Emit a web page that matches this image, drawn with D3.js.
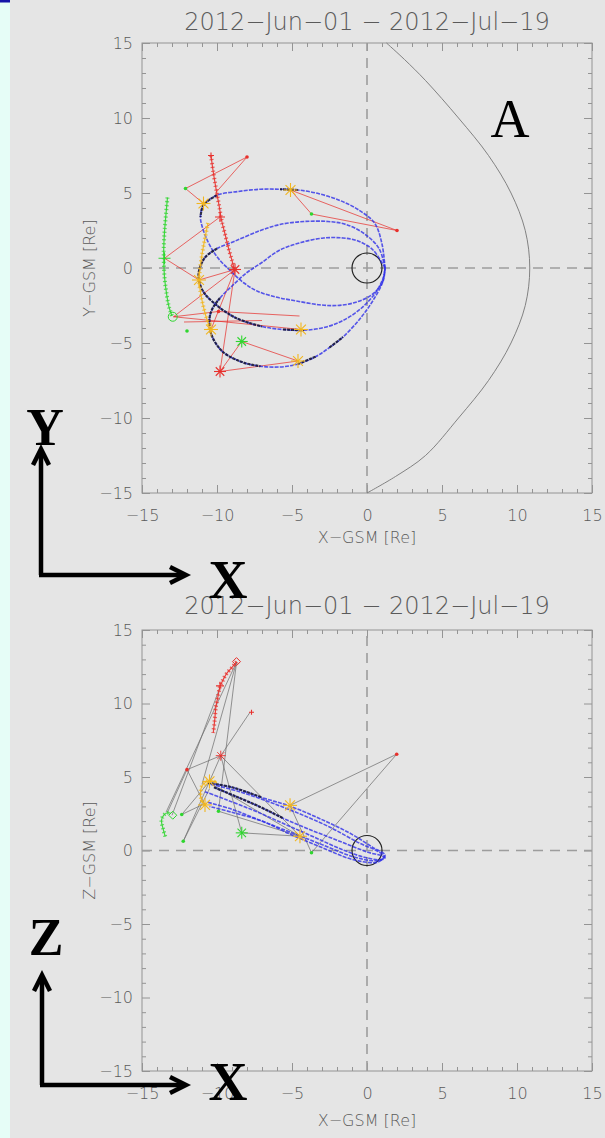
<!DOCTYPE html>
<html>
<head>
<meta charset="utf-8">
<script src="https://cdn.jsdelivr.net/npm/d3@7"></script>
<style>
  html, body { margin: 0; padding: 0; background: #e5e5e5; }
  svg { display: block; }
</style>
</head>
<body>
<svg id="fig" width="605" height="1138"></svg>
<script>
// ---------- data ----------
const dateRange = "2012\u2212Jun\u221201 \u2212 2012\u2212Jul\u221219";
const majorTicks = [-15, -10, -5, 0, 5, 10, 15];
const minorTicks = [-14,-13,-12,-11,-9,-8,-7,-6,-4,-3,-2,-1,1,2,3,4,6,7,8,9,11,12,13,14];
const xLabel = "X\u2212GSM [Re]";
const yLabel = "Y\u2212GSM [Re]";
const zLabel = "Z\u2212GSM [Re]";

// model magnetopause in the X-Y plane
const mpX = [1.3, 2.5, 3.9, 6.1, 8.1, 9.6, 10.55, 10.85, 10.55, 9.6, 8.1, 6.1, 3.9, 1.9, 0.0];
const mpY = [15, 13.9, 12.5, 10, 7.5, 5, 2.5, 0, -2.5, -5, -7.5, -10, -12.5, -13.9, -15];

// spacecraft orbits in X-Y: [x, y, inRegion(1 = dark segment to next point)]
const orbitXY1 = [
  [1.2,0.0,0],[1.0,1.6,0],[0.5,3.0,0],[-0.6,3.9,0],[-1.8,4.5,0],[-3.2,4.95,0],[-4.6,5.2,1],
  [-5.8,5.25,0],[-7.1,5.25,0],[-8.6,5.1,0],[-10.0,4.85,1],[-10.9,4.2,1],[-11.1,3.4,0],
  [-11.0,2.8,0],[-10.6,1.75,0],[-10.0,0.75,0],[-9.1,-0.2,0],[-8.2,-1.0,0],[-7.3,-1.55,0],
  [-6.0,-1.95,0],[-4.7,-2.2,0],[-3.2,-2.45,0],[-2.0,-2.5,0],[-0.8,-2.3,0],[0.3,-1.8,0],
  [1.0,-1.0,0],[1.2,0.0,0]
];
const orbitXY2 = [
  [1.2,0.0,0],[0.8,1.3,0],[-0.2,2.3,0],[-1.4,2.9,0],[-2.6,3.1,0],[-4.2,3.1,0],[-5.8,2.9,0],
  [-7.1,2.5,0],[-8.9,1.75,0],[-10.0,1.3,1],[-10.8,0.7,1],[-11.2,-0.2,1],[-11.2,-0.8,1],
  [-10.9,-1.6,1],[-10.0,-2.5,1],[-8.7,-3.35,1],[-7.0,-3.9,0],[-5.6,-4.1,1],[-4.2,-4.15,0],
  [-2.8,-3.95,0],[-1.6,-3.5,0],[-0.4,-2.7,0],[0.6,-1.6,0],[1.1,-0.6,0],[1.2,0.0,0]
];
const orbitXY3 = [
  [1.2,0.0,0],[0.4,1.2,0],[-0.6,1.8,0],[-1.6,2.0,0],[-2.9,2.0,0],[-4.4,1.7,0],[-5.8,1.2,0],
  [-7.1,0.3,0],[-8.0,-0.3,0],[-9.0,-1.2,0],[-9.8,-2.0,1],[-10.3,-2.7,1],[-10.5,-3.4,1],
  [-10.35,-4.5,1],[-9.6,-5.6,1],[-8.25,-6.3,1],[-7.1,-6.55,0],[-5.8,-6.6,0],[-4.6,-6.4,1],
  [-3.4,-5.9,0],[-2.5,-5.3,1],[-1.6,-4.6,0],[-0.4,-3.3,0],[0.5,-2.0,0],[1.1,-0.8,0],[1.2,0.0,0]
];

// dense-cadence tracks in X-Y
const redTrackXY = [[-10.4,7.5],[-10.25,6.4],[-10.05,5.2],[-9.85,4.1],[-9.7,3.2],[-9.45,2.2],[-9.2,1.2],[-9.0,0.5],[-8.85,-0.1]];
const yellowTrackXY = [[-10.6,3.0],[-10.8,2.0],[-11.0,0.9],[-11.15,-0.2],[-11.2,-0.8],[-11.05,-1.9],[-10.8,-3.0],[-10.55,-3.8],[-10.4,-4.3]];
const greenTrackXY = [[-13.3,4.7],[-13.4,3.6],[-13.5,2.4],[-13.55,1.3],[-13.55,0.65],[-13.5,-0.6],[-13.35,-1.8],[-13.2,-2.6],[-13.0,-3.2]];

// connecting lines between positions in X-Y: [x1, y1, x2, y2]
const linksXY = [
  [-8.0,7.4,-12.1,5.3],[-12.1,5.3,-10.9,4.3],[-8.0,7.4,-10.1,5.0],[-9.8,3.4,-13.5,0.65],
  [-13.5,0.65,-11.2,-0.8],[-12.9,-3.25,-8.8,-0.1],[-8.8,-0.1,-9.8,-6.9],[-12.9,-3.25,-4.4,-4.1],
  [-12.9,-3.25,-9.9,-2.9],[-9.9,-2.9,-4.5,-3.2],[-11.2,-0.8,-8.8,-0.1],[-8.8,-0.1,-10.4,-4.1],
  [-9.8,-6.9,-8.35,-4.9],[-8.35,-4.9,-4.6,-6.2],[-9.8,-6.9,-4.6,-6.2],
  [-5.1,5.2,-3.7,3.6],[-3.7,3.6,2.0,2.5],[-5.1,5.2,2.0,2.5],[-12.2,-3.6,-7.0,-3.5]
];

// markers in X-Y
const redAsterXY = [[-8.8,-0.1],[-9.8,-6.9]];
const redPlusXY = [[-9.8,3.4]];
const redSmallPlusXY = [[-10.4,7.5]];
const redDotXY = [[-8.0,7.4],[2.0,2.5],[-9.9,-2.9]];
const yellowAsterXY = [[-10.9,4.3],[-5.1,5.2],[-11.2,-0.8],[-10.4,-4.1],[-4.4,-4.1],[-4.6,-6.2]];
const greenAsterXY = [[-8.35,-4.9]];
const greenPlusXY = [[-13.5,0.65]];
const greenCircleXY = [[-12.95,-3.25]];
const greenDotXY = [[-12.1,5.3],[-3.7,3.6],[-12.0,-4.2]];

// spacecraft orbits in X-Z
const orbitXZ1 = [
  [-10.6,4.6,1],[-9.0,4.3,1],[-7.0,3.6,0],[-5.1,3.0,0],[-3.0,2.1,0],[-1.0,1.1,0],[0.4,0.2,0],
  [1.2,-0.3,0],[1.0,-0.6,0],[0.0,-0.5,0],[-1.5,0.0,0],[-3.5,0.9,0],[-5.5,1.8,0],[-7.5,2.7,0],
  [-9.5,3.5,0],[-10.8,4.0,0]
];
const orbitXZ2 = [
  [-10.4,4.5,0],[-8.5,4.0,0],[-6.5,3.3,0],[-4.5,2.5,0],[-2.5,1.6,0],[-0.5,0.5,0],[0.8,-0.1,0],
  [1.2,-0.5,0],[0.5,-0.7,0],[-1.0,-0.4,0],[-3.0,0.4,0],[-5.0,1.2,0],[-7.0,2.0,0],[-9.0,2.8,0],
  [-10.7,3.3,0]
];
const orbitXZ3 = [
  [-10.2,4.3,1],[-8.8,3.7,1],[-7.2,3.0,1],[-5.6,2.2,0],[-4.0,1.5,0],[-2.0,0.7,0],[0.0,-0.1,0],
  [1.1,-0.45,0],[0.7,-0.8,0],[-1.0,-0.6,0],[-3.0,0.2,0],[-5.0,1.05,0],[-7.0,2.0,0],[-9.0,2.6,0],
  [-10.5,3.0,0]
];

// dense-cadence tracks in X-Z
const redTrackXZ = [[-8.7,12.85],[-9.0,12.45],[-9.35,12.05],[-9.6,11.6],[-9.8,11.15],[-9.95,10.4],[-10.07,9.8],[-10.15,8.9],[-10.25,8.0]];
const yellowTrackXZ = [[-10.8,3.1],[-11.05,3.5],[-11.1,3.9],[-11.0,4.4],[-10.75,4.65],[-10.47,4.75],[-10.0,4.6]];
const greenTrackXZ = [[-13.45,0.95],[-13.6,1.5],[-13.7,2.05],[-13.55,2.4],[-13.35,2.55],[-13.1,2.55]];

// connecting lines between positions in X-Z
const linksXZ = [
  [-8.7,12.8,-13.4,2.6],[-8.7,12.8,-11.0,4.5],[-8.7,12.8,-9.9,2.7],[-9.8,11.1,-13.0,2.4],
  [-7.8,9.4,-9.75,6.45],[-9.75,6.45,-8.35,1.2],[-9.75,6.45,-4.47,0.97],[-9.75,6.45,-12.25,0.63],
  [-12.0,5.5,-10.8,3.1],[-12.0,5.5,-13.3,2.6],[-5.13,3.07,1.98,6.55],[1.98,6.55,-3.7,-0.15],
  [-5.13,3.07,-3.7,-0.15],[-8.35,1.2,-4.47,0.97],[-9.9,2.67,-4.47,0.97],[-12.35,2.45,-10.5,4.7],
  [-12.35,2.45,-10.8,3.2],[-12.25,0.63,-10.5,4.2],[-10.5,4.6,-4.47,0.97],[-12.0,5.5,-9.75,6.45]
];

// markers in X-Z
const redAsterXZ = [[-9.75,6.45]];
const redPlusXZ = [[-9.8,11.2]];
const redSmallPlusXZ = [[-7.7,9.4]];
const redDiamondXZ = [[-8.7,12.85]];
const redDotXZ = [[1.98,6.55],[-12.0,5.5]];
const yellowAsterXZ = [[-10.5,4.7],[-10.8,3.1],[-5.13,3.07],[-4.47,0.97]];
const greenAsterXZ = [[-8.35,1.2]];
const greenDiamondXZ = [[-12.95,2.4]];
const greenDotXZ = [[-12.35,2.45],[-12.25,0.63],[-3.7,-0.15],[-9.9,2.67]];

// ---------- drawing ----------
const svg = d3.select("#fig");
const FONT = "'DejaVu Sans', 'Liberation Sans', sans-serif";
const SERIF = "'Liberation Serif', 'Times New Roman', serif";
const C = { red: "#e8302c", yellow: "#f2b61e", green: "#2fd62f", blue: "#3030e8", dark: "#15152e",
            frame: "#949494", text: "#5a5a5a", dash: "#9d9d9d", link: "#6e6e6e" };

// page background and the narrow strip on the left
svg.append("rect").attr("width", 605).attr("height", 1138).attr("fill", "#e5e5e5");
svg.append("rect").attr("width", 10).attr("height", 1138).attr("fill", "#e6fdf7");
svg.append("rect").attr("width", 10).attr("height", 2.5).attr("fill", "#1515a8");

function panel(top, bottom, titleY, vLabel, xLabelGap) {
  const x = d3.scaleLinear().domain([-15, 15]).range([142, 592]);
  const y = d3.scaleLinear().domain([-15, 15]).range([bottom, top]);
  const g = svg.append("g");

  g.append("text").attr("x", 367).attr("y", titleY).attr("text-anchor", "middle")
    .attr("font-family", FONT).attr("font-weight", 300).attr("font-size", 24)
    .attr("fill", C.text).text(dateRange);

  // axes with inward ticks on all four sides
  const axes = [
    [d3.axisBottom(x), `translate(0,${bottom})`, true, 17],
    [d3.axisTop(x), `translate(0,${top})`, false, 0],
    [d3.axisLeft(y), `translate(142,0)`, true, 9],
    [d3.axisRight(y), `translate(592,0)`, false, 0]
  ];
  axes.forEach(([ax, tr, labels, pad]) => {
    const minor = g.append("g").attr("transform", tr)
      .call(ax.tickValues(minorTicks).tickSize(-4).tickFormat(""));
    minor.select(".domain").remove();
    minor.selectAll("line").attr("stroke", C.frame);
    const major = g.append("g").attr("transform", tr)
      .call(ax.tickValues(majorTicks).tickSize(-8).tickPadding(pad)
        .tickFormat(labels ? d3.format("d") : ""));
    major.select(".domain").remove();
    major.selectAll("line").attr("stroke", C.frame);
    major.selectAll("text").attr("font-family", FONT).attr("font-weight", 300)
      .attr("font-size", 16).attr("fill", C.text);
  });
  g.append("rect").attr("x", 142).attr("y", top).attr("width", 450).attr("height", bottom - top)
    .attr("fill", "none").attr("stroke", C.frame).attr("stroke-width", 1);

  g.append("text").attr("x", 367).attr("y", bottom + xLabelGap).attr("text-anchor", "middle")
    .attr("font-family", FONT).attr("font-weight", 300).attr("font-size", 16)
    .attr("fill", C.text).text(xLabel);
  g.append("text").attr("transform", `translate(95,${y(0)}) rotate(-90)`).attr("text-anchor", "middle")
    .attr("font-family", FONT).attr("font-weight", 300).attr("font-size", 16)
    .attr("fill", C.text).text(vLabel);

  // X = 0 and Y/Z = 0 reference lines
  g.append("line").attr("x1", x(-15)).attr("x2", x(15)).attr("y1", y(0)).attr("y2", y(0))
    .attr("stroke", C.dash).attr("stroke-width", 1.6).attr("stroke-dasharray", "10,7");
  g.append("line").attr("x1", x(0)).attr("x2", x(0)).attr("y1", y(-15)).attr("y2", y(15))
    .attr("stroke", C.dash).attr("stroke-width", 1.6).attr("stroke-dasharray", "10,7");

  // Earth
  g.append("circle").attr("cx", x(0)).attr("cy", y(0)).attr("r", x(1) - x(0))
    .attr("fill", "none").attr("stroke", "#222").attr("stroke-width", 1.2);

  return { g, x, y };
}

function drawOrbit(p, pts) {
  const line = d3.line().x(d => p.x(d[0])).y(d => p.y(d[1])).curve(d3.curveCatmullRom.alpha(0.5));
  p.g.append("path").attr("d", line(pts)).attr("fill", "none").attr("stroke", C.blue)
    .attr("stroke-width", 1.6).attr("stroke-dasharray", "4,1.2").attr("opacity", 0.8);
  // darker stretches of the orbit
  let run = [];
  pts.forEach((d, i) => {
    if (d[2] === 1) { if (!run.length) run.push(d); run.push(pts[i + 1]); }
    else if (run.length) { drawRun(run); run = []; }
  });
  if (run.length) drawRun(run);
  function drawRun(r) {
    p.g.append("path").attr("d", line(r)).attr("fill", "none").attr("stroke", C.dark)
      .attr("stroke-width", 2.2).attr("stroke-dasharray", "3,1").attr("opacity", 0.85);
  }
}

// high-cadence track: a thin line crossed by short bars, like a chain of small plus marks
function drawTrack(p, pts, color) {
  const line = d3.line().x(d => p.x(d[0])).y(d => p.y(d[1])).curve(d3.curveCatmullRom.alpha(0.5));
  p.g.append("path").attr("d", line(pts)).attr("fill", "none").attr("stroke", color)
    .attr("stroke-width", 1.2).attr("opacity", 0.9);
  p.g.append("path").attr("d", line(pts)).attr("fill", "none").attr("stroke", color)
    .attr("stroke-width", 4).attr("stroke-dasharray", "1.2,2.6").attr("opacity", 0.75);
}

function drawLinks(p, links, color, width) {
  p.g.selectAll(null).data(links).enter().append("line")
    .attr("x1", d => p.x(d[0])).attr("y1", d => p.y(d[1]))
    .attr("x2", d => p.x(d[2])).attr("y2", d => p.y(d[3]))
    .attr("stroke", color).attr("stroke-width", width).attr("opacity", 0.8);
}

function asterisk(p, pts, color, r, w) {
  pts.forEach(d => {
    const cx = p.x(d[0]), cy = p.y(d[1]);
    [0, 45, 90, 135].forEach(a => {
      const dx = r * Math.cos(a * Math.PI / 180), dy = r * Math.sin(a * Math.PI / 180);
      p.g.append("line").attr("x1", cx - dx).attr("y1", cy - dy).attr("x2", cx + dx).attr("y2", cy + dy)
        .attr("stroke", color).attr("stroke-width", w || 1.1);
    });
  });
}
function plus(p, pts, color, r) {
  pts.forEach(d => {
    const cx = p.x(d[0]), cy = p.y(d[1]);
    p.g.append("path").attr("d", `M${cx - r},${cy}H${cx + r}M${cx},${cy - r}V${cy + r}`)
      .attr("stroke", color).attr("stroke-width", 1.1);
  });
}
function ring(p, pts, color, r) {
  pts.forEach(d => p.g.append("circle").attr("cx", p.x(d[0])).attr("cy", p.y(d[1])).attr("r", r)
    .attr("fill", "none").attr("stroke", color).attr("stroke-width", 1));
}
function diamond(p, pts, color, r) {
  pts.forEach(d => {
    const cx = p.x(d[0]), cy = p.y(d[1]);
    p.g.append("path").attr("d", `M${cx},${cy - r}L${cx + r},${cy}L${cx},${cy + r}L${cx - r},${cy}Z`)
      .attr("fill", "none").attr("stroke", color).attr("stroke-width", 1);
  });
}
function dot(p, pts, color, r) {
  pts.forEach(d => p.g.append("circle").attr("cx", p.x(d[0])).attr("cy", p.y(d[1])).attr("r", r)
    .attr("fill", color));
}

// ----- X-Y panel -----
const pXY = panel(43, 493, 30, yLabel, 50);
pXY.g.append("path")
  .attr("d", d3.line().x(d => pXY.x(d[0])).y(d => pXY.y(d[1])).curve(d3.curveCatmullRom)(mpX.map((v, i) => [v, mpY[i]])))
  .attr("fill", "none").attr("stroke", "#767676").attr("stroke-width", 0.9);
drawLinks(pXY, linksXY, C.red, 0.9);
[orbitXY1, orbitXY2, orbitXY3].forEach(o => drawOrbit(pXY, o));
drawTrack(pXY, greenTrackXY, C.green);
drawTrack(pXY, yellowTrackXY, C.yellow);
drawTrack(pXY, redTrackXY, C.red);
asterisk(pXY, yellowAsterXY, C.yellow, 7);
asterisk(pXY, redAsterXY, C.red, 6);
asterisk(pXY, greenAsterXY, C.green, 6);
plus(pXY, redPlusXY, C.red, 5);
plus(pXY, redSmallPlusXY, C.red, 3);
plus(pXY, greenPlusXY, C.green, 6);
ring(pXY, greenCircleXY, C.green, 4.5);
dot(pXY, redDotXY, C.red, 1.8);
dot(pXY, greenDotXY, C.green, 1.8);

// ----- X-Z panel -----
const pXZ = panel(630, 1071, 614, zLabel, 55);
drawLinks(pXZ, linksXZ, C.link, 0.9);
[orbitXZ1, orbitXZ2, orbitXZ3].forEach(o => drawOrbit(pXZ, o));
drawTrack(pXZ, greenTrackXZ, C.green);
drawTrack(pXZ, yellowTrackXZ, C.yellow);
drawTrack(pXZ, redTrackXZ, C.red);
asterisk(pXZ, yellowAsterXZ, C.yellow, 7);
asterisk(pXZ, redAsterXZ, C.red, 5, 0.9);
asterisk(pXZ, greenAsterXZ, C.green, 6);
plus(pXZ, redPlusXZ, C.red, 4);
plus(pXZ, redSmallPlusXZ, C.red, 2.5);
diamond(pXZ, redDiamondXZ, C.red, 4);
diamond(pXZ, greenDiamondXZ, C.green, 4);
dot(pXZ, redDotXZ, C.red, 1.8);
dot(pXZ, greenDotXZ, C.green, 1.8);

// ----- annotations: panel letter and coordinate arrows -----
svg.append("text").attr("x", 510).attr("y", 137).attr("text-anchor", "middle")
  .attr("font-family", SERIF).attr("font-size", 54).attr("fill", "#000").text("A");

function axisArrows(ox, oy, topY, rightX, vName, vNameY, hNameY) {
  const a = svg.append("g").attr("fill", "none").attr("stroke", "#000").attr("stroke-width", 4.5);
  a.append("path").attr("d", `M${ox},${oy}V${topY + 2}`);
  a.append("path").attr("d", `M${ox - 8},${topY + 16}L${ox},${topY}L${ox + 8},${topY + 16}`);
  a.append("path").attr("d", `M${ox - 2},${oy}H${rightX - 2}`);
  a.append("path").attr("d", `M${rightX - 16},${oy - 8}L${rightX},${oy}L${rightX - 16},${oy + 8}`);
  svg.append("text").attr("x", ox + 4).attr("y", vNameY).attr("text-anchor", "middle")
    .attr("font-family", SERIF).attr("font-weight", "bold").attr("font-size", 52).attr("fill", "#000").text(vName);
  svg.append("text").attr("x", rightX + 42).attr("y", hNameY).attr("text-anchor", "middle")
    .attr("font-family", SERIF).attr("font-weight", "bold").attr("font-size", 54).attr("fill", "#000").text("X");
}
axisArrows(41, 575, 449, 186, "Y", 445, 598);
axisArrows(42, 1085, 975, 186, "Z", 955, 1100);
</script>
</body>
</html>
